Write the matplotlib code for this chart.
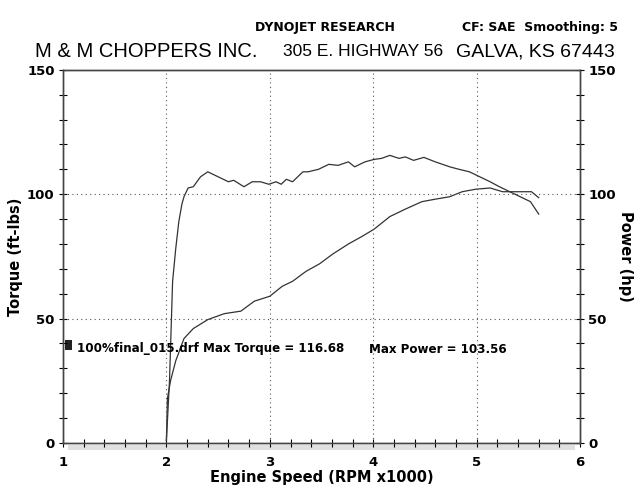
import matplotlib
matplotlib.use("Agg")
import matplotlib.pyplot as plt
from matplotlib.patches import Rectangle

# dyno run 100%final_015.drf
rpm_torque = [2.00, 2.03, 2.06, 2.09, 2.12, 2.15, 2.17, 2.21, 2.26, 2.33, 2.40, 2.50,
              2.60, 2.65, 2.75, 2.83, 2.91, 2.99, 3.06, 3.11, 3.16, 3.22, 3.32, 3.37,
              3.47, 3.57, 3.66, 3.76, 3.82, 3.92, 4.01, 4.08, 4.16, 4.25, 4.31, 4.39,
              4.49, 4.60, 4.74, 4.83, 4.93, 5.03, 5.13, 5.22, 5.32, 5.42, 5.52, 5.60]
torque = [1, 25, 65, 78, 89, 96, 99, 102.5, 103, 107, 109, 107,
          105, 105.6, 103, 105, 105, 104, 105, 104, 106, 105, 109, 109,
          110, 112, 111.6, 113, 111, 113, 114, 114.4, 115.6, 114.4, 115, 113.6,
          114.8, 113, 111, 110, 109, 107, 105, 103, 101, 99, 97, 92]

rpm_power = [2.00, 2.01, 2.04, 2.09, 2.17, 2.26, 2.40, 2.56, 2.72, 2.85, 3.00, 3.12,
             3.22, 3.35, 3.48, 3.61, 3.76, 3.89, 4.01, 4.16, 4.31, 4.47, 4.60, 4.74,
             4.86, 4.99, 5.13, 5.25, 5.38, 5.53, 5.60]
power = [1, 18, 25, 33, 42, 46, 49.6, 52, 53, 57, 59, 63,
         65, 69, 72, 76, 80, 83, 86, 91, 94, 97, 98, 99,
         101, 102, 102.5, 101, 101, 101, 98.6]

x_ticks = [1, 2, 3, 4, 5, 6]
y_ticks = [0, 50, 100, 150]

fig = plt.figure(figsize=(6.4, 4.95), dpi=100)
ax = fig.add_axes([0.0984, 0.105, 0.808, 0.754])

ax.plot(rpm_torque, torque, color="#333333", lw=0.9)
ax.plot(rpm_power, power, color="#333333", lw=0.9)

ax.set_xlim(1, 6)
ax.set_ylim(0, 150)
ax.set_xticks(x_ticks)
ax.set_xticks([1 + 0.2 * i for i in range(26)], minor=True)
ax.set_yticks(y_ticks)
ax.set_yticks(range(0, 151, 10), minor=True)
ax.tick_params(which="both", direction="inout", length=6, width=0.8, labelsize=9.5, top=False)
ax.tick_params(axis="x", pad=6)
ax.tick_params(axis="y", pad=3)
for lab in ax.get_xticklabels() + ax.get_yticklabels():
    lab.set_fontweight("bold")

# dotted grid only at the inner labeled values
for xv in x_ticks[1:-1]:
    ax.axvline(xv, color="#555555", lw=0.8, ls=(0, (1, 3)))
for yv in y_ticks[1:-1]:
    ax.axhline(yv, color="#555555", lw=0.8, ls=(0, (1, 3)))

ax2 = ax.twinx()
ax2.set_ylim(0, 150)
ax2.set_yticks(y_ticks)
ax2.set_yticks(range(0, 151, 10), minor=True)
ax2.tick_params(which="both", direction="inout", length=6, width=0.8, labelsize=9.5, pad=3)
for lab in ax2.get_yticklabels():
    lab.set_fontweight("bold")

for a in (ax, ax2):
    for s in a.spines.values():
        s.set_color("#444444")
        s.set_linewidth(1.0)

# grey band under the x axis from the printout
ax.add_patch(Rectangle((1.05, -2.8), 4.9, 2.2, transform=ax.transData, clip_on=False,
                       facecolor="#e0e0e0", edgecolor="none"))

ax.set_xlabel("Engine Speed (RPM x1000)", fontsize=10.5, fontweight="bold", labelpad=1)
ax.set_ylabel("Torque (ft-lbs)", fontsize=10.5, fontweight="bold", labelpad=3)
ax2.set_ylabel("Power (hp)", fontsize=10.5, fontweight="bold", rotation=-90, labelpad=12)

# legend line
ax.add_patch(Rectangle((1.02, 37.5), 0.07, 4, facecolor="#222222", edgecolor="none", clip_on=False))
ax.text(1.14, 38, "100%final_015.drf Max Torque = 116.68", fontsize=8.6, fontweight="bold",
        va="center")
ax.text(3.96, 37.5, "Max Power = 103.56", fontsize=8.6, fontweight="bold", va="center")

fig.text(0.508, 0.945, "DYNOJET RESEARCH", fontsize=9, fontweight="bold", ha="center", va="center")
fig.text(0.965, 0.945, "CF: SAE  Smoothing: 5", fontsize=9, fontweight="bold", ha="right", va="center")
hdr = dict(va="center", family="Liberation Sans")
fig.text(35 / 640, 0.895, "M & M CHOPPERS INC.", ha="left", fontsize=14.5, **hdr)
fig.text(283 / 640, 0.895, "305 E. HIGHWAY 56", ha="left", fontsize=12.5, **hdr)
fig.text(615 / 640, 0.895, "GALVA, KS 67443", ha="right", fontsize=14, **hdr)

fig.savefig("out.png", dpi=100)
plt.close(fig)
